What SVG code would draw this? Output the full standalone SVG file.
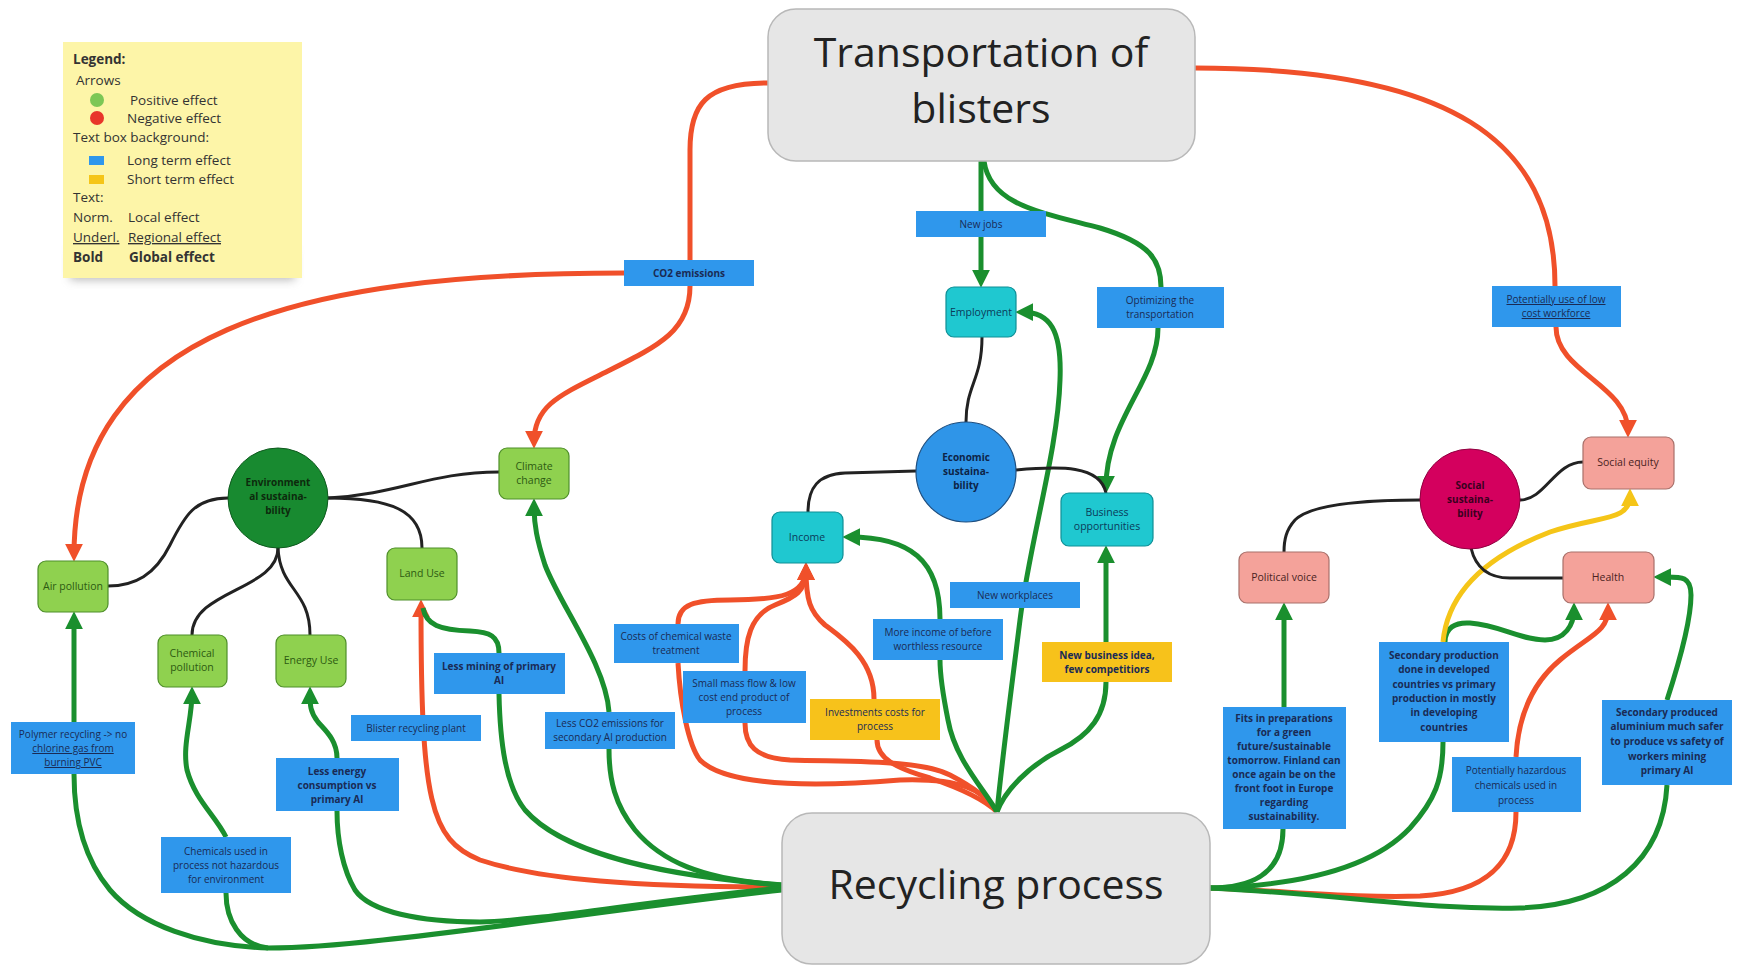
<svg xmlns="http://www.w3.org/2000/svg" width="1737" height="966" viewBox="0 0 1737 966">
<defs>
<style>
text{font-family:"Open Sans","Liberation Sans",sans-serif;}
.c{fill:none;stroke-width:5;stroke-linecap:butt;}
.g{stroke:#1a8f2e;}
.r{stroke:#f0502a;}
.y{stroke:#f5c518;}
.k{fill:none;stroke:#222;stroke-width:3;}
.lb{fill:#2f97ec;}
.ly{fill:#f7c21b;}
.lt{font-size:10px;fill:#1a2b55;text-anchor:middle;}
.bd{font-weight:bold;}
.ul{text-decoration:underline;}
.ng{fill:#8fd14f;stroke:#4f8f2a;stroke-width:1.2;}
.nt{fill:#1fc8d0;stroke:#0f8f96;stroke-width:1.2;}
.np{fill:#f4a29a;stroke:#a8706a;stroke-width:1.2;}
.ntx{font-size:10.5px;text-anchor:middle;}
.big{fill:#e6e6e6;stroke:#b8b8b8;stroke-width:1.5;}
.bt{font-size:41px;fill:#222;text-anchor:middle;}
.leg{font-size:13.5px;fill:#333;}
</style>
<marker id="mg" viewBox="0 0 16 16" refX="10" refY="8" markerWidth="18" markerHeight="18" markerUnits="userSpaceOnUse" orient="auto"><path d="M0,0 L16,8 L0,16 z" fill="#1a8f2e"/></marker>
<marker id="mr" viewBox="0 0 16 16" refX="10" refY="8" markerWidth="18" markerHeight="18" markerUnits="userSpaceOnUse" orient="auto"><path d="M0,0 L16,8 L0,16 z" fill="#f0502a"/></marker>
<marker id="my" viewBox="0 0 16 16" refX="10" refY="8" markerWidth="18" markerHeight="18" markerUnits="userSpaceOnUse" orient="auto"><path d="M0,0 L16,8 L0,16 z" fill="#f5c518"/></marker>
<filter id="sh" x="-20%" y="-20%" width="140%" height="160%"><feGaussianBlur stdDeviation="5"/></filter>
</defs>
<rect width="1737" height="966" fill="#ffffff"/>

<g id="legend">
<rect x="70" y="250" width="225" height="30" fill="#777" opacity="0.5" filter="url(#sh)"/>
<rect x="63" y="42" width="239" height="236" fill="#fdf5a8"/>
<text class="leg bd" x="73" y="64">Legend:</text>
<text class="leg" x="76" y="85">Arrows</text>
<circle cx="97" cy="100" r="7" fill="#7cc756"/>
<text class="leg" x="130" y="105">Positive effect</text>
<circle cx="97" cy="118" r="7" fill="#e8362a"/>
<text class="leg" x="127" y="123">Negative effect</text>
<text class="leg" x="73" y="142">Text box background:</text>
<rect x="89" y="156" width="15" height="9" fill="#2f97ec"/>
<text class="leg" x="127" y="165">Long term effect</text>
<rect x="89" y="175" width="15" height="9" fill="#f5c518"/>
<text class="leg" x="127" y="184">Short term effect</text>
<text class="leg" x="73" y="202">Text:</text>
<text class="leg" x="73" y="222">Norm.</text>
<text class="leg" x="128" y="222">Local effect</text>
<text class="leg ul" x="73" y="242">Underl.</text>
<text class="leg ul" x="128" y="242">Regional effect</text>
<text class="leg bd" x="73" y="262">Bold</text>
<text class="leg bd" x="129" y="262">Global effect</text>
</g>

<g id="connectors">
<path class="c r" d="M 768 83 C 705 83 690 105 690 150 L 690 260"/>
<path class="c r" marker-end="url(#mr)" d="M 690 286 C 690 330 660 345 610 370 C 560 395 534 405 534 442"/>
<path class="c r" marker-end="url(#mr)" d="M 624 273 C 300 273 74 330 74 555"/>
<path class="c r" d="M 1195 68 C 1450 68 1555 140 1555 286"/>
<path class="c r" marker-end="url(#mr)" d="M 1556 327 C 1556 372 1628 385 1628 431"/>
<path class="c r" marker-end="url(#mr)" d="M 782 887 C 640 887 540 880 480 860 C 430 840 421 800 421 606"/>
<path class="c r" d="M 997 812 C 985 790 960 778 900 780 C 780 790 720 780 700 760 C 688 745 680 700 678 663"/>
<path class="c r" marker-end="url(#mr)" d="M 678 624 C 678 604 695 600 730 600 C 780 600 806 595 806 569"/>
<path class="c r" marker-end="url(#mr)" d="M 745 671 C 745 640 750 615 775 605 C 795 597 806 592 806 569"/>
<path class="c r" d="M 745 723 C 745 745 755 758 790 760 C 860 762 920 760 950 775 C 975 788 990 800 997 812"/>
<path class="c r" marker-end="url(#mr)" d="M 874 699 C 874 660 845 640 825 625 C 810 612 806 600 806 569"/>
<path class="c r" d="M 877 740 C 877 758 895 768 930 778 C 965 790 985 800 997 812"/>
<path class="c r" d="M 1209 888 C 1300 892 1360 898 1420 896 C 1490 892 1516 860 1516 812"/>
<path class="c r" marker-end="url(#mr)" d="M 1516 757 C 1518 720 1530 685 1560 660 C 1590 635 1608 632 1608 609"/>

<path class="c g" d="M 981 161 L 981 211"/>
<path class="c g" marker-end="url(#mg)" d="M 981 237 L 981 281"/>
<path class="c g" d="M 984 161 C 990 205 1040 212 1100 228 C 1150 243 1161 260 1161 287"/>
<path class="c g" marker-end="url(#mg)" d="M 1158 328 C 1158 380 1106 420 1106 487"/>
<path class="c g" marker-end="url(#mg)" d="M 997 812 C 1002 760 1010 700 1020 620 C 1030 540 1058 450 1060 380 C 1062 330 1050 312 1022 312"/>
<path class="c g" d="M 997 812 C 985 790 955 760 948 720 C 942 690 940 675 940 660"/>
<path class="c g" marker-end="url(#mg)" d="M 940 619 C 940 560 910 537 849 537"/>
<path class="c g" d="M 997 812 C 1005 790 1030 765 1060 750 C 1090 735 1106 715 1106 682"/>
<path class="c g" marker-end="url(#mg)" d="M 1106 642 L 1106 552"/>
<path class="c g" d="M 782 885 C 700 880 660 860 635 830 C 615 805 609 780 609 749"/>
<path class="c g" marker-end="url(#mg)" d="M 609 712 C 606 665 560 605 545 565 C 537 540 534 525 534 505"/>
<path class="c g" d="M 782 885 C 650 875 560 850 525 810 C 505 785 500 740 499 694"/>
<path class="c g" d="M 499 653 C 499 636 490 632 470 631 C 440 630 426 625 423 608"/>
<path class="c g" d="M 782 888 C 650 900 550 920 480 922 C 420 922 370 912 355 890 C 343 870 337 840 337 811"/>
<path class="c g" marker-end="url(#mg)" d="M 337 758 C 337 740 325 730 318 722 C 310 712 310 705 310 693"/>
<path class="c g" d="M 782 890 C 650 905 480 930 383 940 C 330 946 300 948 268 948 C 200 946 140 925 110 890 C 85 860 74 820 74 774"/>
<path class="c g" marker-end="url(#mg)" d="M 74 722 L 74 618"/>
<path class="c g" d="M 226 893 C 226 920 240 945 268 948"/>
<path class="c g" marker-end="url(#mg)" d="M 226 837 C 215 815 195 800 187 770 C 182 745 192 720 192 693"/>
<path class="c g" d="M 1209 888 C 1250 888 1283 875 1283 829"/>
<path class="c g" marker-end="url(#mg)" d="M 1284 707 L 1284 609"/>
<path class="c g" d="M 1209 888 C 1320 885 1380 860 1410 828 C 1435 800 1443 780 1443 742"/>
<path class="c g" marker-end="url(#mg)" d="M 1445 642 C 1445 628 1455 622 1470 623 C 1500 625 1520 640 1545 640 C 1565 640 1574 625 1574 609"/>
<path class="c g" d="M 1209 888 C 1350 895 1420 910 1520 908 C 1610 905 1663 860 1667 785"/>
<path class="c g" marker-end="url(#mg)" d="M 1667 700 C 1680 660 1691 620 1691 595 C 1691 575 1680 577 1660 577"/>
<path class="c y" marker-end="url(#my)" d="M 1443 642 C 1448 590 1490 555 1550 532 C 1600 515 1630 522 1630 495"/>

<path class="k" d="M 982 337 C 982 380 966 385 966 422"/>
<path class="k" d="M 916 471 L 845 473 C 818 474 808 488 808 512"/>
<path class="k" d="M 1016 470 C 1060 466 1100 465 1106 493"/>
<path class="k" d="M 228 498 C 195 498 185 515 170 545 C 155 575 135 586 108 586"/>
<path class="k" d="M 328 498 C 400 494 430 472 499 472"/>
<path class="k" d="M 328 498 C 390 498 422 510 422 548"/>
<path class="k" d="M 278 548 C 278 590 192 590 192 635"/>
<path class="k" d="M 278 548 C 280 590 310 590 310 635"/>
<path class="k" d="M 1420 500 C 1360 500 1310 505 1295 520 C 1286 530 1284 540 1284 552"/>
<path class="k" d="M 1520 500 C 1545 500 1555 462 1583 462"/>
<path class="k" d="M 1471 548 C 1475 565 1485 578 1510 578 L 1563 578"/>
</g>

<g id="transport">
<rect class="big" x="768" y="9" width="427" height="152" rx="28"/>
<text class="bt" x="981" y="67">Transportation of</text>
<text class="bt" x="981" y="123">blisters</text>
</g>
<g id="recycling">
<rect class="big" x="782" y="813" width="428" height="151" rx="30"/>
<text class="bt" x="996" y="899">Recycling process</text>
</g>

<g id="env-circle">
<circle cx="278" cy="498" r="50" fill="#188a30" stroke="#0e5a1e" stroke-width="1"/>
<text class="ntx bd" fill="#0d2a0d" x="278" y="486" style="font-size:10px">Environment</text>
<text class="ntx bd" fill="#0d2a0d" x="278" y="500" style="font-size:10px">al sustaina-</text>
<text class="ntx bd" fill="#0d2a0d" x="278" y="514" style="font-size:10px">bility</text>
</g>
<g id="econ-circle">
<circle cx="966" cy="472" r="50" fill="#2f95e8" stroke="#1e4f80" stroke-width="1.2"/>
<text class="ntx bd" fill="#0d2447" x="966" y="461" style="font-size:10px">Economic</text>
<text class="ntx bd" fill="#0d2447" x="966" y="475" style="font-size:10px">sustaina-</text>
<text class="ntx bd" fill="#0d2447" x="966" y="489" style="font-size:10px">bility</text>
</g>
<g id="social-circle">
<circle cx="1470" cy="499" r="50" fill="#d4005e" stroke="#900040" stroke-width="1"/>
<text class="ntx bd" fill="#3a0020" x="1470" y="489" style="font-size:10px">Social</text>
<text class="ntx bd" fill="#3a0020" x="1470" y="503" style="font-size:10px">sustaina-</text>
<text class="ntx bd" fill="#3a0020" x="1470" y="517" style="font-size:10px">bility</text>
</g>

<g id="employment"><rect class="nt" x="946" y="287" width="70" height="50" rx="8"/><text class="ntx" fill="#0b3b5a" x="981" y="316">Employment</text></g>
<g id="income"><rect class="nt" x="772" y="512" width="71" height="51" rx="8"/><text class="ntx" fill="#0b3b5a" x="807" y="541">Income</text></g>
<g id="business"><rect class="nt" x="1061" y="493" width="92" height="53" rx="8"/><text class="ntx" fill="#0b3b5a" x="1107" y="516">Business</text><text class="ntx" fill="#0b3b5a" x="1107" y="530">opportunities</text></g>
<g id="climate"><rect class="ng" x="499" y="448" width="70" height="51" rx="8"/><text class="ntx" fill="#2d5a12" x="534" y="470">Climate</text><text class="ntx" fill="#2d5a12" x="534" y="484">change</text></g>
<g id="airpollution"><rect class="ng" x="38" y="561" width="70" height="51" rx="8"/><text class="ntx" fill="#2d5a12" x="73" y="590">Air pollution</text></g>
<g id="landuse"><rect class="ng" x="387" y="548" width="70" height="52" rx="8"/><text class="ntx" fill="#2d5a12" x="422" y="577">Land Use</text></g>
<g id="chempollution"><rect class="ng" x="158" y="635" width="69" height="52" rx="8"/><text class="ntx" fill="#2d5a12" x="192" y="657">Chemical</text><text class="ntx" fill="#2d5a12" x="192" y="671">pollution</text></g>
<g id="energyuse"><rect class="ng" x="276" y="635" width="70" height="52" rx="8"/><text class="ntx" fill="#2d5a12" x="311" y="664">Energy Use</text></g>
<g id="socialequity"><rect class="np" x="1583" y="437" width="91" height="52" rx="8"/><text class="ntx" fill="#4a2222" x="1628" y="466">Social equity</text></g>
<g id="health"><rect class="np" x="1563" y="552" width="91" height="51" rx="8"/><text class="ntx" fill="#4a2222" x="1608" y="581">Health</text></g>
<g id="political"><rect class="np" x="1239" y="552" width="90" height="51" rx="8"/><text class="ntx" fill="#4a2222" x="1284" y="581">Political voice</text></g>

<g id="l-co2"><rect class="lb" x="624" y="260" width="130" height="26"/><text class="lt bd" x="689" y="277">CO2 emissions</text></g>
<g id="l-newjobs"><rect class="lb" x="916" y="211" width="130" height="26"/><text class="lt" x="981" y="228">New jobs</text></g>
<g id="l-optimizing"><rect class="lb" x="1097" y="287" width="127" height="41"/><text class="lt" x="1160" y="304">Optimizing the</text><text class="lt" x="1160" y="318">transportation</text></g>
<g id="l-potuse"><rect class="lb" x="1492" y="286" width="129" height="41"/><text class="lt ul" x="1556" y="303">Potentially use of low</text><text class="lt ul" x="1556" y="317">cost workforce</text></g>
<g id="l-polymer"><rect class="lb" x="11" y="722" width="124" height="52"/><text class="lt" x="73" y="738">Polymer recycling -&gt; no</text><text class="lt ul" x="73" y="752">chlorine gas from</text><text class="lt ul" x="73" y="766">burning PVC</text></g>
<g id="l-chemused"><rect class="lb" x="161" y="837" width="130" height="56"/><text class="lt" x="226" y="855">Chemicals used in</text><text class="lt" x="226" y="869">process not hazardous</text><text class="lt" x="226" y="883">for environment</text></g>
<g id="l-lessenergy"><rect class="lb" x="276" y="758" width="123" height="53"/><text class="lt bd" x="337" y="775">Less energy</text><text class="lt bd" x="337" y="789">consumption  vs</text><text class="lt bd" x="337" y="803">primary Al</text></g>
<g id="l-blister"><rect class="lb" x="351" y="715" width="130" height="26"/><text class="lt" x="416" y="732">Blister recycling plant</text></g>
<g id="l-lessmining"><rect class="lb" x="434" y="653" width="131" height="41"/><text class="lt bd" x="499" y="670">Less mining of primary</text><text class="lt bd" x="499" y="684">Al</text></g>
<g id="l-lessco2"><rect class="lb" x="545" y="712" width="130" height="37"/><text class="lt" x="610" y="727">Less CO2 emissions for</text><text class="lt" x="610" y="741">secondary Al production</text></g>
<g id="l-costschem"><rect class="lb" x="614" y="624" width="125" height="39"/><text class="lt" x="676" y="640">Costs of chemical waste</text><text class="lt" x="676" y="654">treatment</text></g>
<g id="l-smallmass"><rect class="lb" x="683" y="671" width="123" height="52"/><text class="lt" x="744" y="687">Small mass flow &amp; low</text><text class="lt" x="744" y="701">cost end product of</text><text class="lt" x="744" y="715">process</text></g>
<g id="l-invest"><rect class="ly" x="810" y="699" width="130" height="41"/><text class="lt" x="875" y="716">Investments costs for</text><text class="lt" x="875" y="730">process</text></g>
<g id="l-moreincome"><rect class="lb" x="873" y="619" width="130" height="41"/><text class="lt" x="938" y="636">More income of before</text><text class="lt" x="938" y="650">worthless resource</text></g>
<g id="l-newworkplaces"><rect class="lb" x="950" y="582" width="130" height="26"/><text class="lt" x="1015" y="599">New workplaces</text></g>
<g id="l-newbusiness"><rect class="ly" x="1042" y="642" width="130" height="40"/><text class="lt bd" x="1107" y="659">New business idea,</text><text class="lt bd" x="1107" y="673">few competitiors</text></g>
<g id="l-fits"><rect class="lb" x="1223" y="707" width="123" height="122"/>
<text class="lt bd" x="1284" y="722">Fits in preparations</text><text class="lt bd" x="1284" y="736">for a green</text><text class="lt bd" x="1284" y="750">future/sustainable</text><text class="lt bd" x="1284" y="764">tomorrow. Finland can</text><text class="lt bd" x="1284" y="778">once again be on the</text><text class="lt bd" x="1284" y="792">front foot in Europe</text><text class="lt bd" x="1284" y="806">regarding</text><text class="lt bd" x="1284" y="820">sustainability.</text></g>
<g id="l-secprod"><rect class="lb" x="1379" y="642" width="130" height="100"/>
<text class="lt bd" x="1444" y="659">Secondary production</text><text class="lt bd" x="1444" y="673">done in developed</text><text class="lt bd" x="1444" y="688">countries vs primary</text><text class="lt bd" x="1444" y="702">production in mostly</text><text class="lt bd" x="1444" y="716">in developing</text><text class="lt bd" x="1444" y="731">countries</text></g>
<g id="l-pothaz"><rect class="lb" x="1452" y="757" width="129" height="55"/><text class="lt" x="1516" y="774">Potentially hazardous</text><text class="lt" x="1516" y="789">chemicals used in</text><text class="lt" x="1516" y="804">process</text></g>
<g id="l-secproduced"><rect class="lb" x="1602" y="700" width="130" height="85"/>
<text class="lt bd" x="1667" y="716">Secondary produced</text><text class="lt bd" x="1667" y="730">aluminium much safer</text><text class="lt bd" x="1667" y="745">to produce vs safety of</text><text class="lt bd" x="1667" y="760">workers mining</text><text class="lt bd" x="1667" y="774">primary Al</text></g>
</svg>
